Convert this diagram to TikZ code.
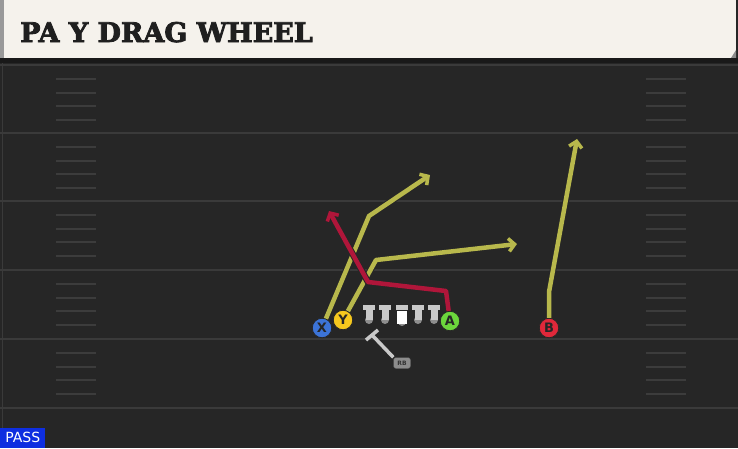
\documentclass[tikz,border=0pt]{standalone}
\usepackage{fontspec}
\setmainfont{DejaVu Sans}
\newfontfamily\titlefont{DejaVu Serif}[BoldFeatures={FakeBold=3}]
\usetikzlibrary{arrows.meta}
\definecolor{fieldbg}{HTML}{262626}
\definecolor{headbg}{HTML}{F5F2EC}
\definecolor{yardline}{HTML}{3A3A3A}
\definecolor{hashline}{HTML}{3C3C3C}
\definecolor{routeyel}{HTML}{B8B84C}
\definecolor{routered}{HTML}{B0163A}
\definecolor{olgrey}{HTML}{C9C9C9}
\definecolor{oldot}{HTML}{8E8E8E}
\definecolor{xblue}{HTML}{3C74D8}
\definecolor{yyellow}{HTML}{F6C81E}
\definecolor{agreen}{HTML}{6CD63C}
\definecolor{bred}{HTML}{E0283A}
\definecolor{passblue}{HTML}{0E2EE0}
\tikzset{
  player/.style={circle, draw=black!85, line width=0.8pt, fill=#1, minimum size=19.5pt,
    inner sep=0pt, font=\fontsize{13}{13}\selectfont\bfseries, text=black!85},
  route/.style={line width=4.5pt, draw=#1, line join=round,
    -{Straight Barb[length=6pt,width=13pt,line width=3.5pt]},
    preaction={draw=black!85, line width=6.5pt, -{Straight Barb[length=6pt,width=13pt,line width=5pt]}}},
}
\begin{document}
\begin{tikzpicture}[x=1pt,y=-1pt]
  \useasboundingbox (0,0) rectangle (738,448);
  \fill[fieldbg] (0,0) rectangle (738,448);
  \fill[headbg] (0,0) rectangle (736,58);
  \fill[black!40] (0,0) rectangle (4,58);
  \fill[black!45] (731,58) -- (736,58) -- (736,50) -- cycle;
  \fill[black!90] (0,58) rectangle (738,63);
  \draw[yardline, line width=1pt] (2,63) -- (2,448);
  \node[anchor=base west, inner sep=0pt, font=\titlefont\bfseries\fontsize{27}{27}\selectfont,
    text=black!88] (title) at (20,42) {PA Y DRAG WHEEL};
  \foreach \y in {65,133,201,270,339,408}
    \draw[yardline, line width=2pt] (0,\y) -- (738,\y);
  \foreach \y in {65,133,201,270,339}
    \foreach \d in {14,28,41,55}
      {\draw[hashline, line width=1.5pt] (56,\y+\d) -- (96,\y+\d);
       \draw[hashline, line width=1.5pt] (646,\y+\d) -- (686,\y+\d);}

  \node[player=xblue] (X) at (322,328) {X};
  \node[player=yyellow] (Y) at (343,320) {Y};
  \node[player=agreen] (A) at (450,321) {A};
  \node[player=bred] (B) at (549,328) {B};

  \coordinate (xbend) at (369,216);
  \coordinate (xend) at (430,175);
  \coordinate (ybend) at (376,260);
  \coordinate (yend) at (517,244);
  \coordinate (abend) at (446,291);
  \coordinate (across) at (368,282);
  \coordinate (aend) at (329,211);
  \coordinate (bbend) at (549,292);
  \coordinate (bend) at (577,139);
  \draw[route=routeyel] (X) -- (xbend) -- (xend);
  \draw[route=routeyel] (Y) -- (ybend) -- (yend);
  \draw[route=routered] (A) -- (abend) -- (across) -- (aend);
  \draw[route=routeyel] (B) -- (bbend) -- (bend);

  \foreach \x in {369,385,418,434} {
    \fill[oldot] (\x,320) circle (4);
    \fill[olgrey] (\x-3.5,308) rectangle (\x+3.5,320);
    \fill[olgrey] (\x-6,304.5) rectangle (\x+6,310);
  }
  \fill[oldot] (402,322) circle (4);
  \fill[olgrey] (396,304.5) rectangle (408,310);
  \fill[white] (397,311) rectangle (407,324);

  \node[draw=black!70, fill=black!45, rounded corners=2.5pt, minimum width=17pt, minimum height=11pt,
    inner sep=0pt, font=\fontsize{6}{6}\selectfont\bfseries, text=black!80] (RB) at (402,363) {RB};
  \coordinate (rbbar) at (372,335);
  \draw[olgrey, line width=3.5pt] (RB.north west) -- (rbbar);
  \draw[olgrey, line width=3.5pt] (366,340) -- (378,330);

  \node[fill=passblue, anchor=south west, minimum width=45pt, minimum height=20pt, inner sep=0pt,
    text=white, font=\fontsize{14}{14}\selectfont] (pass) at (0,448) {PASS};
\end{tikzpicture}
\end{document}
